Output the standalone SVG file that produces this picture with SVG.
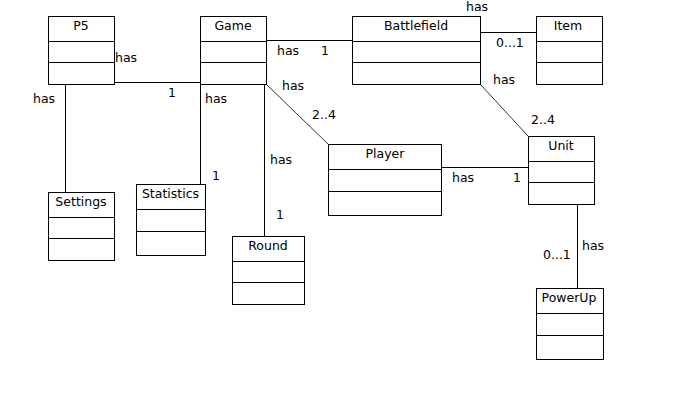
<svg xmlns="http://www.w3.org/2000/svg" width="697" height="419" viewBox="0 0 697 419">
<style>
.box{fill:#fff;stroke:#000;stroke-width:1}
.div{stroke:#000;stroke-width:1}
.con{stroke:#000;stroke-width:1;fill:none}
.diag{stroke:#000;stroke-width:0.8;fill:none}
text{font-family:"DejaVu Sans",sans-serif;font-size:12.5px;fill:#000}
.t{text-anchor:middle}
</style>
<rect width="697" height="419" fill="#fff"/>
<g id="connectors">
<line class="con" x1="114" y1="82.5" x2="200" y2="82.5"/>
<line class="con" x1="65.5" y1="84" x2="65.5" y2="192"/>
<line class="con" x1="266" y1="40.5" x2="352" y2="40.5"/>
<line class="con" x1="480" y1="32.5" x2="536" y2="32.5"/>
<line class="con" x1="200.5" y1="84" x2="200.5" y2="184"/>
<line class="con" x1="264.5" y1="84" x2="264.5" y2="236"/>
<line class="diag" x1="266" y1="84" x2="328" y2="144"/>
<line class="diag" x1="480" y1="84" x2="528" y2="136"/>
<line class="con" x1="441" y1="167.5" x2="528" y2="167.5"/>
<line class="con" x1="577.5" y1="202" x2="577.5" y2="288"/>
<text x="115" y="62">has</text>
<text x="168" y="97">1</text>
<text x="33" y="103">has</text>
<text x="205" y="103">has</text>
<text x="277" y="55">has</text>
<text x="321" y="55">1</text>
<text x="282" y="90">has</text>
<text x="312" y="119">2..4</text>
<text x="466" y="11">has</text>
<text x="496" y="47">0...1</text>
<text x="493" y="84">has</text>
<text x="531" y="124">2..4</text>
<text x="212" y="180">1</text>
<text x="270" y="164">has</text>
<text x="276" y="219">1</text>
<text x="452" y="182">has</text>
<text x="513" y="182">1</text>
<text x="582" y="250">has</text>
<text x="543" y="259">0...1</text>
</g>
<g id="P5"><rect class="box" x="48.5" y="16.5" width="66" height="68"/><line class="div" x1="48.5" y1="41.5" x2="114.5" y2="41.5"/><line class="div" x1="48.5" y1="62.5" x2="114.5" y2="62.5"/><text class="t" x="81" y="30">P5</text></g>
<g id="Game"><rect class="box" x="200.5" y="16.5" width="66" height="68"/><line class="div" x1="200.5" y1="41.5" x2="266.5" y2="41.5"/><line class="div" x1="200.5" y1="62.5" x2="266.5" y2="62.5"/><text class="t" x="233" y="30">Game</text></g>
<g id="Battlefield"><rect class="box" x="352.5" y="16.5" width="128" height="68"/><line class="div" x1="352.5" y1="41.5" x2="480.5" y2="41.5"/><line class="div" x1="352.5" y1="62.5" x2="480.5" y2="62.5"/><text class="t" x="416" y="30">Battlefield</text></g>
<g id="Item"><rect class="box" x="536.5" y="16.5" width="66" height="68"/><line class="div" x1="536.5" y1="41.5" x2="602.5" y2="41.5"/><line class="div" x1="536.5" y1="62.5" x2="602.5" y2="62.5"/><text class="t" x="568" y="30">Item</text></g>
<g id="Settings"><rect class="box" x="48.5" y="192.5" width="66" height="68"/><line class="div" x1="48.5" y1="217.5" x2="114.5" y2="217.5"/><line class="div" x1="48.5" y1="238.5" x2="114.5" y2="238.5"/><text class="t" x="81" y="206">Settings</text></g>
<g id="Statistics"><rect class="box" x="136.5" y="184.5" width="69" height="71"/><line class="div" x1="136.5" y1="209.5" x2="205.5" y2="209.5"/><line class="div" x1="136.5" y1="231.5" x2="205.5" y2="231.5"/><text class="t" x="170.5" y="198">Statistics</text></g>
<g id="Round"><rect class="box" x="232.5" y="236.5" width="72" height="68"/><line class="div" x1="232.5" y1="261.5" x2="304.5" y2="261.5"/><line class="div" x1="232.5" y1="282.5" x2="304.5" y2="282.5"/><text class="t" x="268" y="250">Round</text></g>
<g id="Player"><rect class="box" x="328.5" y="144.5" width="113" height="71"/><line class="div" x1="328.5" y1="169.5" x2="441.5" y2="169.5"/><line class="div" x1="328.5" y1="191.5" x2="441.5" y2="191.5"/><text class="t" x="385" y="158">Player</text></g>
<g id="Unit"><rect class="box" x="528.5" y="136.5" width="66" height="68"/><line class="div" x1="528.5" y1="161.5" x2="594.5" y2="161.5"/><line class="div" x1="528.5" y1="182.5" x2="594.5" y2="182.5"/><text class="t" x="561" y="150">Unit</text></g>
<g id="PowerUp"><rect class="box" x="536.5" y="288.5" width="67" height="71"/><line class="div" x1="536.5" y1="313.5" x2="603.5" y2="313.5"/><line class="div" x1="536.5" y1="335.5" x2="603.5" y2="335.5"/><text class="t" x="569" y="302">PowerUp</text></g>
</svg>
